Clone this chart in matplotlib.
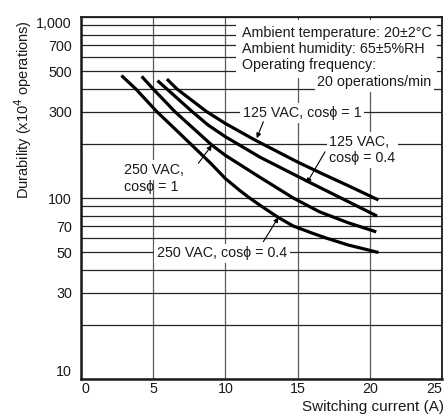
import matplotlib
matplotlib.use("Agg")
import matplotlib.pyplot as plt
from matplotlib.ticker import FixedLocator, NullFormatter

plt.rcParams['font.family'] = ['Liberation Sans', 'DejaVu Sans']

# curves: switching current (A) vs durability (x10^4 ops)
a_x = [2.8, 3.8, 5.25, 6.18, 7.79, 9.0, 10.0, 11.0, 11.6, 12.5, 13.67, 14.7, 16.0, 17.0, 18.5, 20.6]
a_y = [475, 400, 300, 255, 192, 155, 128, 110, 101, 90, 78, 70, 64, 60, 55, 50]   # 250 VAC, cos=0.4
b_x = [4.2, 5.0, 6.5, 9.06, 10.0, 12.4, 14.7, 16.5, 18.5, 20.45]
b_y = [470, 400, 300, 196, 172, 130, 100, 84, 73, 65]                             # 250 VAC, cos=1
c_x = [5.3, 5.95, 7.7, 8.8, 10.0, 12.4, 15.74, 18.0, 20.5]
c_y = [445, 400, 300, 253, 218, 168, 123, 100, 79.5]                              # 125 VAC, cos=0.4
d_x = [5.95, 6.65, 8.7, 10.0, 12.05, 15.0, 16.55, 18.5, 20.6]
d_y = [454, 400, 300, 258, 209, 158, 138, 117, 97.5]                              # 125 VAC, cos=1

y_major = [10, 30, 50, 70, 100, 300, 500, 700, 1000]
y_labels = ['10', '30', '50', '70', '100', '300', '500', '700', '1,000']
y_minor = [20, 40, 60, 80, 90, 200, 400, 600, 800, 900]
x_ticks = [0, 5, 10, 15, 20, 25]

fs = 10.3
ink = '#1a1a1a'
fig = plt.figure(figsize=(4.45, 4.15), dpi=100)
ax = fig.add_axes([81 / 445, 1 - 379 / 415, 361 / 445, 362 / 415])

ax.set_yscale('log')
ax.set_xlim(0, 25)
ax.set_ylim(10, 1000)
ax.yaxis.set_major_locator(FixedLocator(y_major))
ax.yaxis.set_minor_locator(FixedLocator(y_minor))
ax.yaxis.set_minor_formatter(NullFormatter())
ax.set_yticklabels(y_labels)
yl = ax.get_yticklabels()
yl[0].set_va('bottom')
yl[-1].set_va('top')
ax.set_xticks(x_ticks)
ax.set_xticklabels([str(v) for v in x_ticks])
xl = ax.get_xticklabels()
xl[0].set_ha('left')
xl[-1].set_ha('right')

ax.tick_params(which='both', length=0, labelsize=fs, colors=ink)
ax.tick_params(axis='y', pad=6.5)
ax.tick_params(axis='x', pad=2.5)

ax.grid(True, axis='y', which='both', color='#262626', lw=0.9)
ax.grid(True, axis='x', which='major', color='#5a5a5a', lw=0.9)
ax.set_axisbelow(True)

for s in ['left', 'bottom']:
    ax.spines[s].set_linewidth(1.8)
for s in ['top', 'right']:
    ax.spines[s].set_linewidth(1.3)
for s in ax.spines.values():
    s.set_color(ink)

for xs, ys in [(a_x, a_y), (b_x, b_y), (c_x, c_y), (d_x, d_y)]:
    ax.plot(xs, ys, color='black', lw=2.3, solid_capstyle='butt', solid_joinstyle='round', zorder=3)

ax.set_ylabel('Durability (x10$^4$ operations)', fontsize=10.5, color=ink)
ax.yaxis.set_label_coords(-0.129, 0.743)
ax.set_xlabel('Switching current (A)', fontsize=11, color=ink, ha='right')
ax.xaxis.set_label_coords(1.006, -0.058)

box = dict(facecolor='white', edgecolor='none', pad=4)
tkw = dict(transform=ax.transAxes, fontsize=fs, color=ink, zorder=4)

ax.text(0.445, 0.911, 'Ambient temperature: 20\u00b12\u00b0C\nAmbient humidity: 65\u00b15%RH\nOperating frequency:',
        ha='left', va='center', linespacing=1.2, bbox=box, **tkw)
ax.text(0.9715, 0.821, '20 operations/min', ha='right', va='center', bbox=dict(box, pad=2), **tkw)

ax.text(0.449, 0.735, '125 VAC, cos\u03d5 = 1', ha='left', va='center', bbox=dict(box, pad=2), **tkw)
ax.text(0.688, 0.633, '125 VAC,\ncos\u03d5 = 0.4', ha='left', va='center', linespacing=1.2,
        bbox=dict(box, pad=2), **tkw)
ax.text(0.12, 0.577, '250 VAC,', ha='left', va='center', bbox=dict(box, pad=2), **tkw)
ax.text(0.12, 0.531, 'cos\u03d5 = 1', ha='left', va='center', **tkw)
ax.text(0.2097, 0.347, '250 VAC, cos\u03d5 = 0.4', ha='left', va='center', bbox=dict(box, pad=2), **tkw)

arrow = dict(arrowstyle='-|>', color='black', lw=0.8, mutation_scale=7, shrinkA=0, shrinkB=0)
ax.annotate('', xy=(12.17, 214), xytext=(12.63, 264), arrowprops=arrow, zorder=5)
ax.annotate('', xy=(15.63, 120.6), xytext=(16.9, 180), arrowprops=arrow, zorder=5)
ax.annotate('', xy=(9.06, 196), xytext=(8.13, 155.6), arrowprops=arrow, zorder=5)
ax.annotate('', xy=(13.67, 78.2), xytext=(12.63, 57.4), arrowprops=arrow, zorder=5)

fig.savefig('out.png', dpi=100, facecolor='white')
